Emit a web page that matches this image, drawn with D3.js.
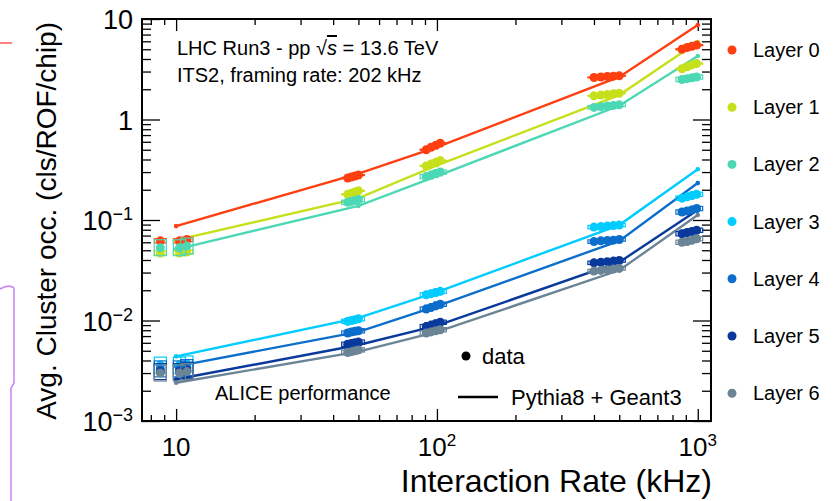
<!DOCTYPE html>
<html>
<head>
<meta charset="utf-8">
<script src="https://cdn.jsdelivr.net/npm/d3@7"></script>
<style>
body { margin: 0; background: #fff; }
text { font-family: "Liberation Sans", Arial, Helvetica, sans-serif; fill: #000; }
</style>
</head>
<body>
<div id="chart-area"></div>
<script>
// layers and colours
var layerNames = ["Layer 0", "Layer 1", "Layer 2", "Layer 3", "Layer 4", "Layer 5", "Layer 6"];
var layerColors = ["#ff3f10", "#c6e01c", "#4cd8b4", "#00ccff", "#0c6ecb", "#08399b", "#6b8496"];

// measured interaction rates (kHz) and relative box size
var rates = [8.7, 10.3, 11.0, 45.5, 47, 48.5, 50, 91, 95, 99, 103, 400, 425, 450, 475, 500, 870, 910, 950, 990];
var sysRel = [0.2, 0.2, 0.2, 0.05, 0.05, 0.05, 0.05, 0.05, 0.05, 0.05, 0.05, 0.04, 0.04, 0.04, 0.04, 0.04, 0.05, 0.05, 0.05, 0.05];
var sysLayer = [0.25, 0.25, 1, 1, 1, 1, 1];

// measured occupancy per layer (cls/ROF/chip)
var occL0 = [0.062, 0.062, 0.064, 0.262, 0.268, 0.274, 0.28, 0.50, 0.53, 0.555, 0.58, 2.62, 2.65, 2.68, 2.70, 2.72, 5.0, 5.2, 5.35, 5.5];
var occL1 = [0.047, 0.047, 0.048, 0.18, 0.185, 0.19, 0.195, 0.345, 0.36, 0.375, 0.39, 1.72, 1.75, 1.77, 1.80, 1.82, 3.2, 3.35, 3.5, 3.6];
var occL2 = [0.053, 0.053, 0.055, 0.15, 0.153, 0.156, 0.16, 0.27, 0.28, 0.29, 0.30, 1.32, 1.34, 1.36, 1.38, 1.40, 2.5, 2.55, 2.6, 2.65];
var occL3 = [0.0036, 0.0036, 0.0037, 0.0098, 0.0100, 0.0102, 0.0104, 0.0180, 0.0185, 0.0190, 0.0195, 0.085, 0.086, 0.087, 0.088, 0.089, 0.165, 0.170, 0.175, 0.180];
var occL4 = [0.0033, 0.0033, 0.0034, 0.0075, 0.0077, 0.0078, 0.0079, 0.0130, 0.0135, 0.0140, 0.0145, 0.061, 0.062, 0.0625, 0.063, 0.064, 0.120, 0.123, 0.126, 0.130];
var occL5 = [0.0031, 0.0031, 0.0032, 0.0058, 0.0059, 0.0060, 0.0061, 0.0087, 0.0090, 0.0093, 0.0096, 0.0375, 0.038, 0.0385, 0.039, 0.0395, 0.073, 0.075, 0.077, 0.079];
var occL6 = [0.0030, 0.0030, 0.0031, 0.0048, 0.0049, 0.0050, 0.0051, 0.0075, 0.0077, 0.0079, 0.0081, 0.031, 0.0315, 0.032, 0.0325, 0.033, 0.060, 0.061, 0.063, 0.065];

// Pythia8 + Geant3 simulation
var mcRates = [10, 50, 100, 500, 1000];
var mcL0 = [0.087, 0.29, 0.53, 2.65, 8.7];
var mcL1 = [0.063, 0.165, 0.35, 1.75, 5.9];
var mcL2 = [0.051, 0.138, 0.274, 1.37, 4.28];
var mcL3 = [0.0044, 0.0106, 0.0192, 0.089, 0.32];
var mcL4 = [0.0035, 0.0077, 0.0139, 0.062, 0.233];
var mcL5 = [0.0026, 0.0057, 0.0089, 0.038, 0.126];
var mcL6 = [0.0024, 0.0049, 0.0077, 0.0316, 0.112];

// tick labels
var xTickVals = [10, 100, 1000];
var xTickBase = ["10", "10", "10"];
var xTickExp = ["", "2", "3"];
var yTickVals = [0.001, 0.01, 0.1, 1, 10];
var yTickBase = ["10", "10", "10", "1", "10"];
var yTickExp = ["\u22123", "\u22122", "\u22121", "", ""];

var occ = [occL0, occL1, occL2, occL3, occL4, occL5, occL6];
var mc = [mcL0, mcL1, mcL2, mcL3, mcL4, mcL5, mcL6];

var margin = {top: 19, right: 122, bottom: 80, left: 142},
    width = 833 - margin.left - margin.right,
    height = 501 - margin.top - margin.bottom;

var root = d3.select("#chart-area")
    .append("svg")
    .attr("width", 833)
    .attr("height", 501);

// leftover marks at the left edge of the cropped figure
root.append("line")
    .attr("x1", 0).attr("x2", 12).attr("y1", 43).attr("y2", 43)
    .attr("stroke", "#ff2a2a").attr("stroke-width", 1.2);
root.append("path")
    .attr("d", "M0,289 C5,286 10,285 14,288 L14,383 L11,388 L11,501")
    .attr("fill", "none").attr("stroke", "#c98af5").attr("stroke-width", 1.6);

var svg = root.append("g")
    .attr("transform", "translate(" + margin.left + "," + margin.top + ")");

var x = d3.scaleLog().domain([7.4, 1124]).range([0, width]);
var y = d3.scaleLog().domain([1e-3, 10]).range([height, 0]);

var xMinor = x.ticks().filter(d => xTickVals.indexOf(d) < 0);
var yMinor = y.ticks().filter(d => yTickVals.indexOf(d) < 0);

function addAxis(axis, tx, ty) {
    var g = svg.append("g")
        .attr("transform", "translate(" + tx + "," + ty + ")")
        .call(axis.tickFormat(""));
    g.select(".domain").remove();
    g.selectAll("line").attr("stroke", "#000").attr("stroke-width", 1.3);
}

addAxis(d3.axisBottom(x).tickValues(xTickVals).tickSize(-12), 0, height);
addAxis(d3.axisBottom(x).tickValues(xMinor).tickSize(-6), 0, height);
addAxis(d3.axisTop(x).tickValues(xTickVals).tickSize(-12), 0, 0);
addAxis(d3.axisTop(x).tickValues(xMinor).tickSize(-6), 0, 0);
addAxis(d3.axisLeft(y).tickValues(yTickVals).tickSize(-18), 0, 0);
addAxis(d3.axisLeft(y).tickValues(yMinor).tickSize(-9), 0, 0);
addAxis(d3.axisRight(y).tickValues(yTickVals).tickSize(-18), width, 0);
addAxis(d3.axisRight(y).tickValues(yMinor).tickSize(-9), width, 0);

// tick labels with superscripts
xTickVals.forEach(function(v, i) {
    var t = svg.append("text")
        .attr("x", x(v))
        .attr("y", height + 35)
        .attr("text-anchor", "middle")
        .style("font-size", "26px")
        .text(xTickBase[i]);
    if (xTickExp[i]) {
        t.append("tspan").attr("dy", -10).style("font-size", "17px").text(xTickExp[i]);
    }
});

yTickVals.forEach(function(v, i) {
    var t = svg.append("text")
        .attr("x", -9)
        .attr("y", y(v) + 10)
        .attr("text-anchor", "end")
        .style("font-size", "27px")
        .text(yTickBase[i]);
    if (yTickExp[i]) {
        t.append("tspan").attr("dy", -10).style("font-size", "18px").text(yTickExp[i]);
    }
});

// simulation lines
var line = d3.line()
    .x(d => x(d[0]))
    .y(d => y(d[1]));

mc.forEach(function(vals, li) {
    var pts = mcRates.map((r, i) => [r, vals[i]]);
    svg.append("path")
        .datum(pts)
        .attr("d", line)
        .attr("fill", "none")
        .attr("stroke", layerColors[li])
        .attr("stroke-width", 2.4);
    svg.selectAll(".mcdot" + li)
        .data(pts)
        .enter()
        .append("circle")
        .attr("cx", d => x(d[0]))
        .attr("cy", d => y(d[1]))
        .attr("r", 2.3)
        .attr("fill", layerColors[li]);
});

// data points with boxes and error bars
occ.forEach(function(vals, li) {
    var pts = rates.map((r, i) => ({rate: r, v: vals[i], sys: sysRel[i] * sysLayer[li]}));
    var g = svg.append("g");
    g.selectAll("rect")
        .data(pts)
        .enter()
        .append("rect")
        .attr("x", d => x(d.rate / 1.055))
        .attr("width", d => x(d.rate * 1.055) - x(d.rate / 1.055))
        .attr("y", d => y(d.v * (1 + d.sys)))
        .attr("height", d => y(d.v / (1 + d.sys)) - y(d.v * (1 + d.sys)))
        .attr("fill", "none")
        .attr("stroke", layerColors[li])
        .attr("stroke-width", 1.2);
    g.selectAll("line")
        .data(pts)
        .enter()
        .append("line")
        .attr("x1", d => x(d.rate * 0.97))
        .attr("x2", d => x(d.rate * 1.03))
        .attr("y1", d => y(d.v))
        .attr("y2", d => y(d.v))
        .attr("stroke", layerColors[li])
        .attr("stroke-width", 2);
    g.selectAll("circle")
        .data(pts)
        .enter()
        .append("circle")
        .attr("cx", d => x(d.rate))
        .attr("cy", d => y(d.v))
        .attr("r", 4.5)
        .attr("fill", layerColors[li]);
});

// frame
svg.append("rect")
    .attr("width", width)
    .attr("height", height)
    .attr("fill", "none")
    .attr("stroke", "#000")
    .attr("stroke-width", 2);

// texts
var info = svg.append("text")
    .attr("x", 35)
    .attr("y", 36)
    .style("font-size", "20px")
    .text("LHC Run3 - pp ");
info.append("tspan").text("\u221A");
info.append("tspan").style("font-style", "italic").style("text-decoration", "overline").text("s");
info.append("tspan").text(" = 13.6 TeV");

svg.append("text")
    .attr("x", 35)
    .attr("y", 63)
    .style("font-size", "20px")
    .text("ITS2, framing rate: 202 kHz");

svg.append("text")
    .attr("x", 73)
    .attr("y", 381)
    .style("font-size", "20px")
    .text("ALICE performance");

// inner legend
svg.append("circle")
    .attr("cx", 324).attr("cy", 337).attr("r", 4.5).attr("fill", "#000");
svg.append("text")
    .attr("x", 340).attr("y", 345)
    .style("font-size", "22px")
    .text("data");
svg.append("line")
    .attr("x1", 316).attr("x2", 356).attr("y1", 378).attr("y2", 378)
    .attr("stroke", "#000").attr("stroke-width", 2.4);
svg.append("text")
    .attr("x", 369).attr("y", 386)
    .style("font-size", "22px")
    .text("Pythia8 + Geant3");

// layer legend
var legend = root.append("g");
layerNames.forEach(function(name, i) {
    var ly = 50 + i * 57.2;
    legend.append("circle")
        .attr("cx", 732).attr("cy", ly).attr("r", 4.5)
        .attr("fill", layerColors[i]);
    legend.append("text")
        .attr("x", 753).attr("y", ly + 7)
        .style("font-size", "20px")
        .text(name);
});

// axis titles
root.append("text")
    .attr("x", 712)
    .attr("y", 492)
    .attr("text-anchor", "end")
    .style("font-size", "32px")
    .text("Interaction Rate (kHz)");

root.append("text")
    .attr("transform", "translate(56,22) rotate(-90)")
    .attr("text-anchor", "end")
    .style("font-size", "28px")
    .text("Avg. Cluster occ. (cls/ROF/chip)");
</script>
</body>
</html>
